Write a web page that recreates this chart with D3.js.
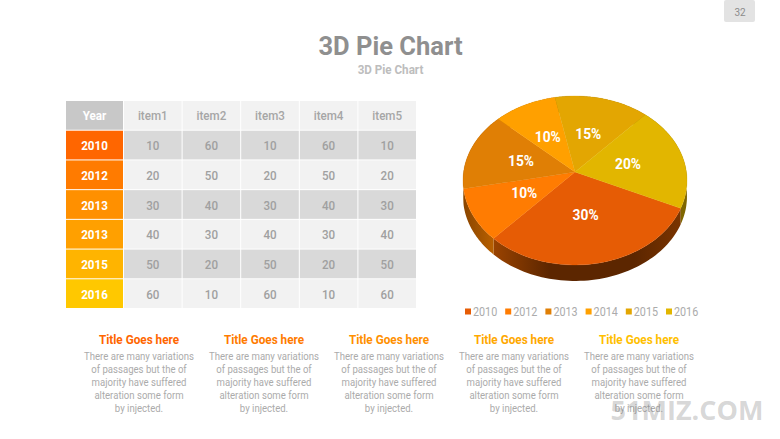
<!DOCTYPE html>
<html><head><meta charset="utf-8">
<script src="https://cdn.jsdelivr.net/npm/d3@7/dist/d3.min.js"></script>
<style>html,body{margin:0;padding:0;background:#fff}svg{display:block}text{font-family:Roboto,sans-serif}</style>
</head><body><svg id="c" width="780" height="439"></svg>
<script>
// ---- data ----
const years = ["2010","2012","2013","2013","2015","2016"];
const items = ["item1","item2","item3","item4","item5"];
const item1 = [10,20,30,40,50,60];
const item2 = [60,50,40,30,20,10];
const item3 = [10,20,30,40,50,60];
const item4 = [60,50,40,30,20,10];
const item5 = [10,20,30,40,50,60];
const yearColors = ["#FF6600","#FF7B00","#FF9000","#FFA000","#FFB400","#FFC800"];
const pieYears = ["2010","2012","2013","2014","2015","2016"];
const pieValues = [30,10,15,10,15,20];
const pieTop = ["#E65C05","#FF7C02","#E07F05","#FFA000","#E3A602","#E2B600"];
const pieSide = ["#5C2600","#B35A00","#8A4C00","#996000","#8A6400","#7F6600"];
const blockTitleColors = ["#FF6600","#FF7B00","#FF9000","#FFA800","#FFC000"];
const blockLines = ["There are many variations","of passages but the of","majority have suffered","alteration some form","by injected."];

const svg = d3.select("#c");
const defs = svg.append("defs");
// narrow a text the way the reference's condensed rendering does
const squeeze=(sel,ratio)=>{
  const n=sel.node();
  sel.attr("textLength",(n.getComputedTextLength()*ratio).toFixed(1)).attr("lengthAdjust","spacingAndGlyphs");
  return sel;
};

// ---- header ----
svg.append("rect").attr("x",724).attr("y",0).attr("width",31).attr("height",22).attr("rx",2).attr("fill","#E3E3E3");
svg.append("text").attr("x",740).attr("y",16).attr("text-anchor","middle").attr("font-size",10).attr("fill","#8c8c8c").text("32");
svg.append("text").attr("x",390.5).attr("y",55).attr("text-anchor","middle").attr("font-size",25.5).attr("font-weight",700).attr("fill","#8F8F8F").text("3D Pie Chart");
squeeze(svg.append("text").attr("x",390.5).attr("y",74).attr("text-anchor","middle").attr("font-size",12).attr("font-weight",700).attr("fill","#BDBDBD").text("3D Pie Chart"),.97);

// ---- table ----
const firstW = 58;
const x = d3.scaleBand().domain(items).range([66+firstW,417]);
const y = d3.scaleBand().domain(d3.range(-1,6)).range([101,309]);
const cols = [item1,item2,item3,item4,item5];
const t = svg.append("g");
function cell(cx,cy,w,h,fill,txt,col,weight){
  t.append("rect").attr("x",cx).attr("y",cy).attr("width",w-1).attr("height",h-1).attr("fill",fill);
  squeeze(t.append("text").attr("x",cx+w/2-.5).attr("y",cy+h/2+4.5).attr("text-anchor","middle").attr("font-size",13.5)
   .attr("font-weight",weight).attr("fill",col).text(txt),.86);
}
cell(66,y(-1),firstW,y.bandwidth(),"#C8C8C8","Year","#fff",700);
items.forEach(d=>cell(x(d),y(-1),x.bandwidth(),y.bandwidth(),"#F2F2F2",d,"#A6A6A6",500));
years.forEach((yr,i)=>{
  cell(66,y(i),firstW,y.bandwidth(),yearColors[i],yr,"#fff",700);
  items.forEach((d,j)=>cell(x(d),y(i),x.bandwidth(),y.bandwidth(),i%2?"#F2F2F2":"#D9D9D9",cols[j][i],"#A0A0A0",500));
});

// ---- pie (perspective projection of a tilted disc) ----
const cx=575, cy=172, c=111.4, a=83.6, b=0.1006, depth=16;
const project=(ang,r=1,dy=0)=>{
  const X=r*Math.sin(ang), Y=-r*Math.cos(ang), k=1-b*Y;
  return [cx+c*X/k, cy+a*Y/k+dy];
};
const arcs=d3.pie().sort(null).startAngle(114.6*Math.PI/180).endAngle((114.6+360)*Math.PI/180)(pieValues);
const sample=(s,e)=>d3.range(0,61).map(i=>s+(e-s)*i/60);
const line=d3.line();
const pg=svg.append("g");
// side wall
arcs.forEach((d,i)=>{
  const id="sg"+i;
  const pts=sample(d.startAngle,d.endAngle);
  const top=pts.map(p=>project(p));
  const bottom=pts.map(p=>project(p,1,depth)).reverse();
  const g=defs.append("linearGradient").attr("id",id).attr("gradientUnits","userSpaceOnUse")
    .attr("x1",d3.min(top,p=>p[0])).attr("x2",d3.max(top,p=>p[0])).attr("y1",0).attr("y2",0);
  if(i===0){
    g.append("stop").attr("offset",0).attr("stop-color","#9A4300");
    g.append("stop").attr("offset",.3).attr("stop-color","#5C2600");
    g.append("stop").attr("offset",.75).attr("stop-color","#5C2600");
    g.append("stop").attr("offset",1).attr("stop-color","#7A3400");
  } else if(i===1){
    g.append("stop").attr("offset",0).attr("stop-color","#8A4500");
    g.append("stop").attr("offset",1).attr("stop-color","#B86000");
  } else {
    g.append("stop").attr("offset",0).attr("stop-color",pieSide[i]);
    g.append("stop").attr("offset",1).attr("stop-color",pieSide[i]);
  }
  pg.append("path").attr("d",line(top.concat(bottom))+"Z").attr("fill",`url(#${id})`);
});
// top
arcs.forEach((d,i)=>{
  const pts=sample(d.startAngle,d.endAngle).map(p=>project(p));
  pg.append("path").attr("d",line([[cx,cy]].concat(pts))+"Z").attr("fill",pieTop[i]).attr("stroke",pieTop[i]).attr("stroke-width",.3);
});
arcs.forEach((d,i)=>{
  const p=project((d.startAngle+d.endAngle)/2,.5);
  squeeze(pg.append("text").attr("x",p[0]-1).attr("y",p[1]+5).attr("text-anchor","middle").attr("font-size",15)
    .attr("font-weight",700).attr("fill","#fff").text(pieValues[i]+"%"),.92);
});

// ---- legend ----
const lx=d3.scalePoint().domain(pieYears).range([465,666]);
pieYears.forEach((d,i)=>{
  svg.append("rect").attr("x",lx(d)).attr("y",308.5).attr("width",6).attr("height",6).attr("fill",pieTop[i]);
  squeeze(svg.append("text").attr("x",lx(d)+8).attr("y",316).attr("font-size",12.5).attr("fill","#ABABAB").text(d),.86);
});

// ---- text blocks ----
const bx=d3.scalePoint().domain(d3.range(5)).range([139,639]);
d3.range(5).forEach(i=>{
  squeeze(svg.append("text").attr("x",bx(i)).attr("y",344).attr("text-anchor","middle").attr("font-size",12.5)
    .attr("font-weight",700).attr("fill",blockTitleColors[i]).text("Title Goes here"),.94);
  blockLines.forEach((l,k)=>{
    squeeze(svg.append("text").attr("x",bx(i)).attr("y",360+k*13).attr("text-anchor","middle").attr("font-size",11)
      .attr("fill","#ABABAB").text(l),.87);
  });
});

// ---- watermark ----
svg.append("text").attr("x",687).attr("y",420).attr("text-anchor","middle").attr("font-size",27)
  .attr("font-weight",700).attr("fill","#777").attr("fill-opacity",.3).style("font-family","'Open Sans',sans-serif").text("51MIZ.COM");
</script></body></html>
